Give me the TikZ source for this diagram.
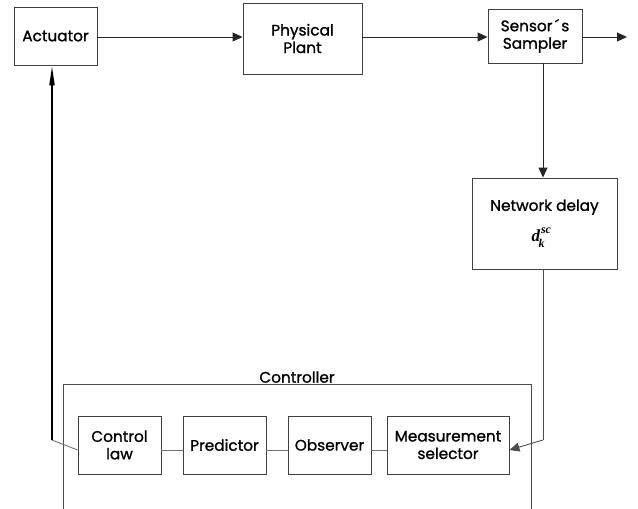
\documentclass[tikz,border=0pt]{standalone}
\usepackage{fontspec}
\setmainfont{Poppins}[FakeBold=1.2]
\newfontfamily\symfont{Liberation Serif}
\usetikzlibrary{arrows.meta}
\begin{document}
\begin{tikzpicture}[x=1pt,y=-1pt,
  lbl/.style={font=\fontsize{15.3}{17.5}\selectfont, align=center},
  box/.style={lbl, draw=black!75, line width=0.9pt, inner sep=0pt},
  flow/.style={draw=black!85, line width=0.9pt, -{Triangle[length=10pt,width=9pt]}},
  link/.style={draw=black!55, line width=0.9pt},
  frame/.style={draw=black!70, line width=0.9pt}]
\useasboundingbox (0,0) rectangle (638,509);

% top row
\node[box, minimum width=83pt, minimum height=58pt] (act) at (55.5,36) {Actuator};
\node[box, minimum width=119pt, minimum height=71pt] (plant) at (302.5,38.5) {Physical\\Plant};
\node[box, minimum width=94pt, minimum height=54pt] (samp) at (535,36) {Sensor\,\char"00B4\,s\\Sampler};
\coordinate (out) at (627,37);

% network delay, with the delay symbol d_k^sc set by hand
\node[box, minimum width=145pt, minimum height=91pt] (delay) at (544.5,223.5)
  {Network delay\\[12pt]\hspace*{-6pt}{\symfont\bfseries\itshape\fontsize{17}{17}\selectfont d%
   \kern1pt\raisebox{8pt}{\fontsize{12}{12}\selectfont sc}%
   \kern-12.5pt\raisebox{-6pt}{\fontsize{12}{12}\selectfont k}\kern7pt}};

% controller frame, open at the bottom
\coordinate (fl) at (63,509);
\coordinate (ftl) at (63,384);
\coordinate (ftr) at (531,384);
\coordinate (fr) at (531,509);
\draw[frame] (fl) -- (ftl) -- (ftr) -- (fr);
\node[lbl, anchor=south, inner sep=2pt] (ctl) at (297,385) {Controller};

% controller blocks
\node[box, minimum width=83pt, minimum height=58pt] (law) at (119.5,445) {Control\\law};
\node[box, minimum width=83pt, minimum height=58pt] (pred) at (224.5,445) {Predictor};
\node[box, minimum width=83pt, minimum height=58pt] (obs) at (329.5,445) {Observer};
\node[box, minimum width=122pt, minimum height=58pt] (ms) at (448,445) {Measurement\\selector};

% top row arrows
\draw[flow] (act.east |- 0,37) -- (plant.west |- 0,37);
\draw[flow] (plant.east |- 0,37) -- (samp.west |- 0,37);
\draw[flow] (samp.east |- 0,37) -- (out);

% sampler to network delay to selector
\draw[flow] (samp.south -| 543,0) -- (delay.north -| 543,0);
\coordinate (turn) at (543,440);
\draw[link, draw=black!70] (delay.south -| turn) -- (turn);
\draw[flow, draw=black!70] (turn) -- ([yshift=-5pt]ms.east);

% chain inside the controller
\draw[link] ([yshift=-5pt]ms.west) -- ([yshift=-5pt]obs.east);
\draw[link] ([yshift=-5pt]obs.west) -- ([yshift=-5pt]pred.east);
\draw[link] ([yshift=-5pt]pred.west) -- ([yshift=-5pt]law.east);

% feedback to the actuator
\coordinate (fb) at (52,440);
\draw[link] ([yshift=-5pt]law.west) -- (fb);
\draw[draw=black, line width=2pt, -{Triangle[length=20pt,width=5pt]}] (fb) -- (act.south -| fb);
\end{tikzpicture}
\end{document}
